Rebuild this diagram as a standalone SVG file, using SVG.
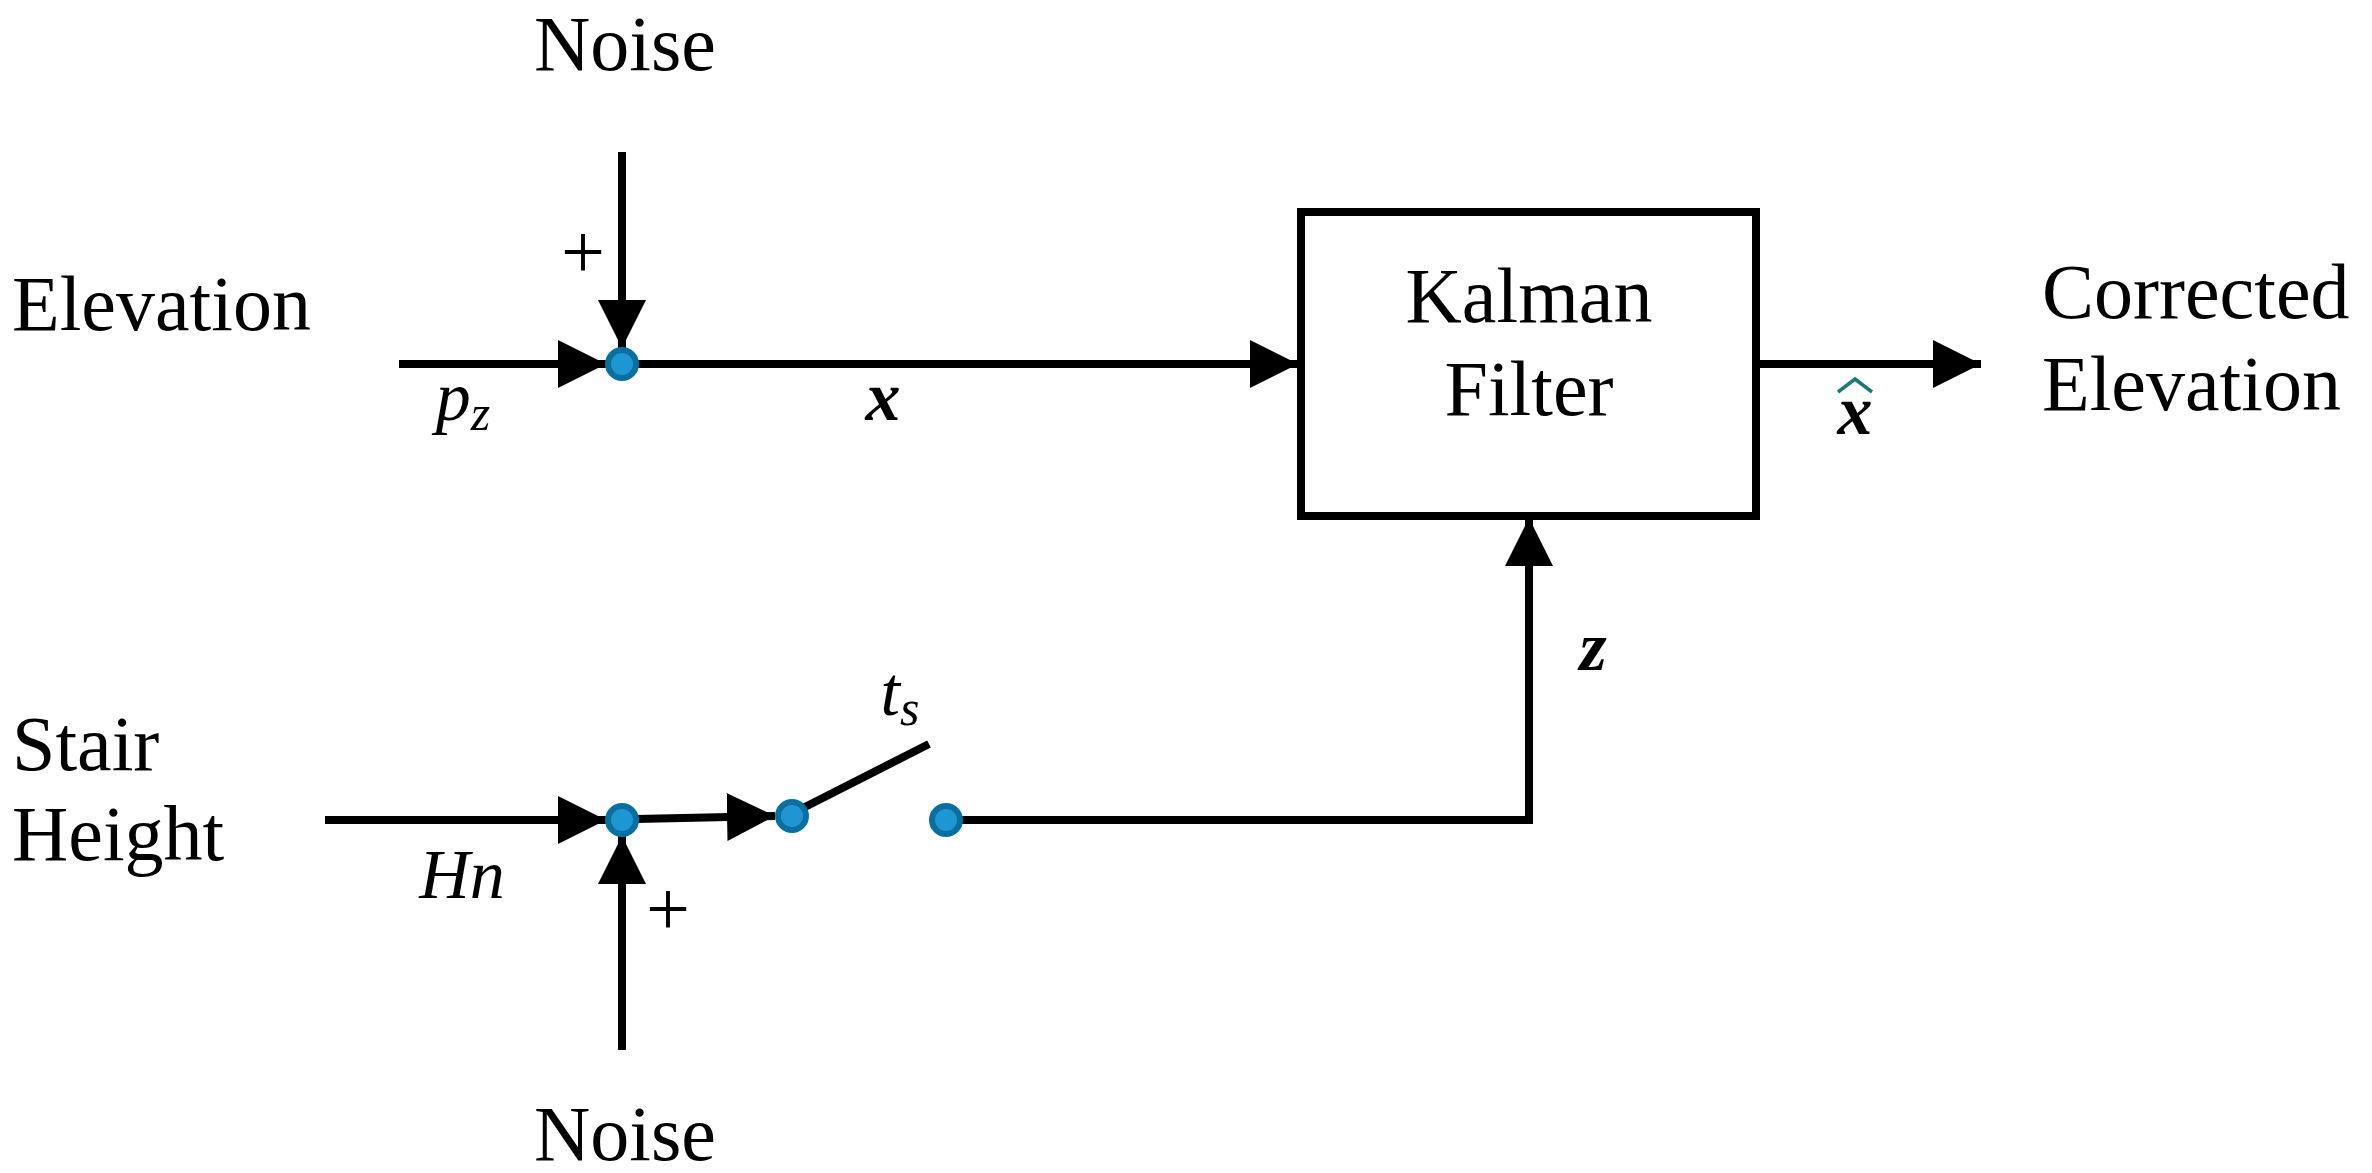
<svg xmlns="http://www.w3.org/2000/svg" width="2372" height="1173" viewBox="0 0 2372 1173">
<defs>
<marker id="ah" viewBox="0 0 10 10" refX="10" refY="5" markerWidth="6" markerHeight="6" markerUnits="strokeWidth" orient="auto"><path d="M0,0 L10,5 L0,10 Z" fill="#000"/></marker>
<style>
.t{font-family:"Liberation Serif","Times New Roman",serif;font-size:78px;fill:#000}
.m{font-family:"Liberation Serif","Times New Roman",serif;font-size:70px;font-style:italic;fill:#000}
.ln{stroke:#000;stroke-width:8;fill:none}
.dot{fill:#1e96d2;stroke:#0a6fa0;stroke-width:6}
</style>
</defs>
<rect width="2372" height="1173" fill="#fff"/>
<g id="connectors">
<line class="ln" x1="399" y1="364" x2="606" y2="364" marker-end="url(#ah)"/>
<line class="ln" x1="622" y1="152" x2="622" y2="348" marker-end="url(#ah)"/>
<line class="ln" x1="636" y1="364" x2="1298" y2="364" marker-end="url(#ah)"/>
<line class="ln" x1="1756" y1="364" x2="1981" y2="364" marker-end="url(#ah)"/>
<line class="ln" x1="325" y1="820" x2="606" y2="820" marker-end="url(#ah)"/>
<line class="ln" x1="622" y1="1050" x2="622" y2="836" marker-end="url(#ah)"/>
<line class="ln" x1="636" y1="819" x2="775" y2="816" marker-end="url(#ah)"/>
<line class="ln" x1="803" y1="808" x2="929" y2="744" stroke-width="10"/>
<polyline class="ln" points="960,820 1529,820 1529,518" marker-end="url(#ah)"/>
</g>
<g id="kalman">
<rect x="1301" y="212" width="455" height="304" fill="#fff" stroke="#000" stroke-width="8"/>
<text class="t" x="1529" y="322" text-anchor="middle">Kalman</text>
<text class="t" x="1529" y="415" text-anchor="middle">Filter</text>
</g>
<g id="sum1"><circle class="dot" cx="622" cy="364" r="14"/></g>
<g id="sum2"><circle class="dot" cx="622" cy="820" r="14"/></g>
<g id="sw1"><circle class="dot" cx="792" cy="816" r="14"/></g>
<g id="sw2"><circle class="dot" cx="946" cy="820" r="14"/></g>
<g id="labels">
<text class="t" x="625" y="70" text-anchor="middle">Noise</text>
<text class="t" x="12" y="330">Elevation</text>
<text class="t" x="583" y="278" text-anchor="middle" font-size="88">+</text>
<text class="m" x="463" y="420" text-anchor="middle">p<tspan font-size="50" dy="10">z</tspan></text>
<text class="m" x="883" y="420" text-anchor="middle" font-weight="bold">x</text>
<text class="t" x="2042" y="318">Corrected</text>
<text class="t" x="2042" y="410">Elevation</text>
<text class="m" x="1855" y="434" text-anchor="middle" font-weight="bold">x</text>
<path d="M1838,392 L1855,379 L1872,392" fill="none" stroke="#1a7a7a" stroke-width="3.5"/>
<text class="m" x="1593" y="670" text-anchor="middle" font-weight="bold">z</text>
<text class="t" x="12" y="770">Stair</text>
<text class="t" x="12" y="860">Height</text>
<text class="m" x="462" y="898" text-anchor="middle">Hn</text>
<text class="m" x="900" y="715" text-anchor="middle">t<tspan font-size="50" dy="10">s</tspan></text>
<text class="t" x="668" y="935" text-anchor="middle" font-size="88">+</text>
<text class="t" x="625" y="1160" text-anchor="middle">Noise</text>
</g>
</svg>
